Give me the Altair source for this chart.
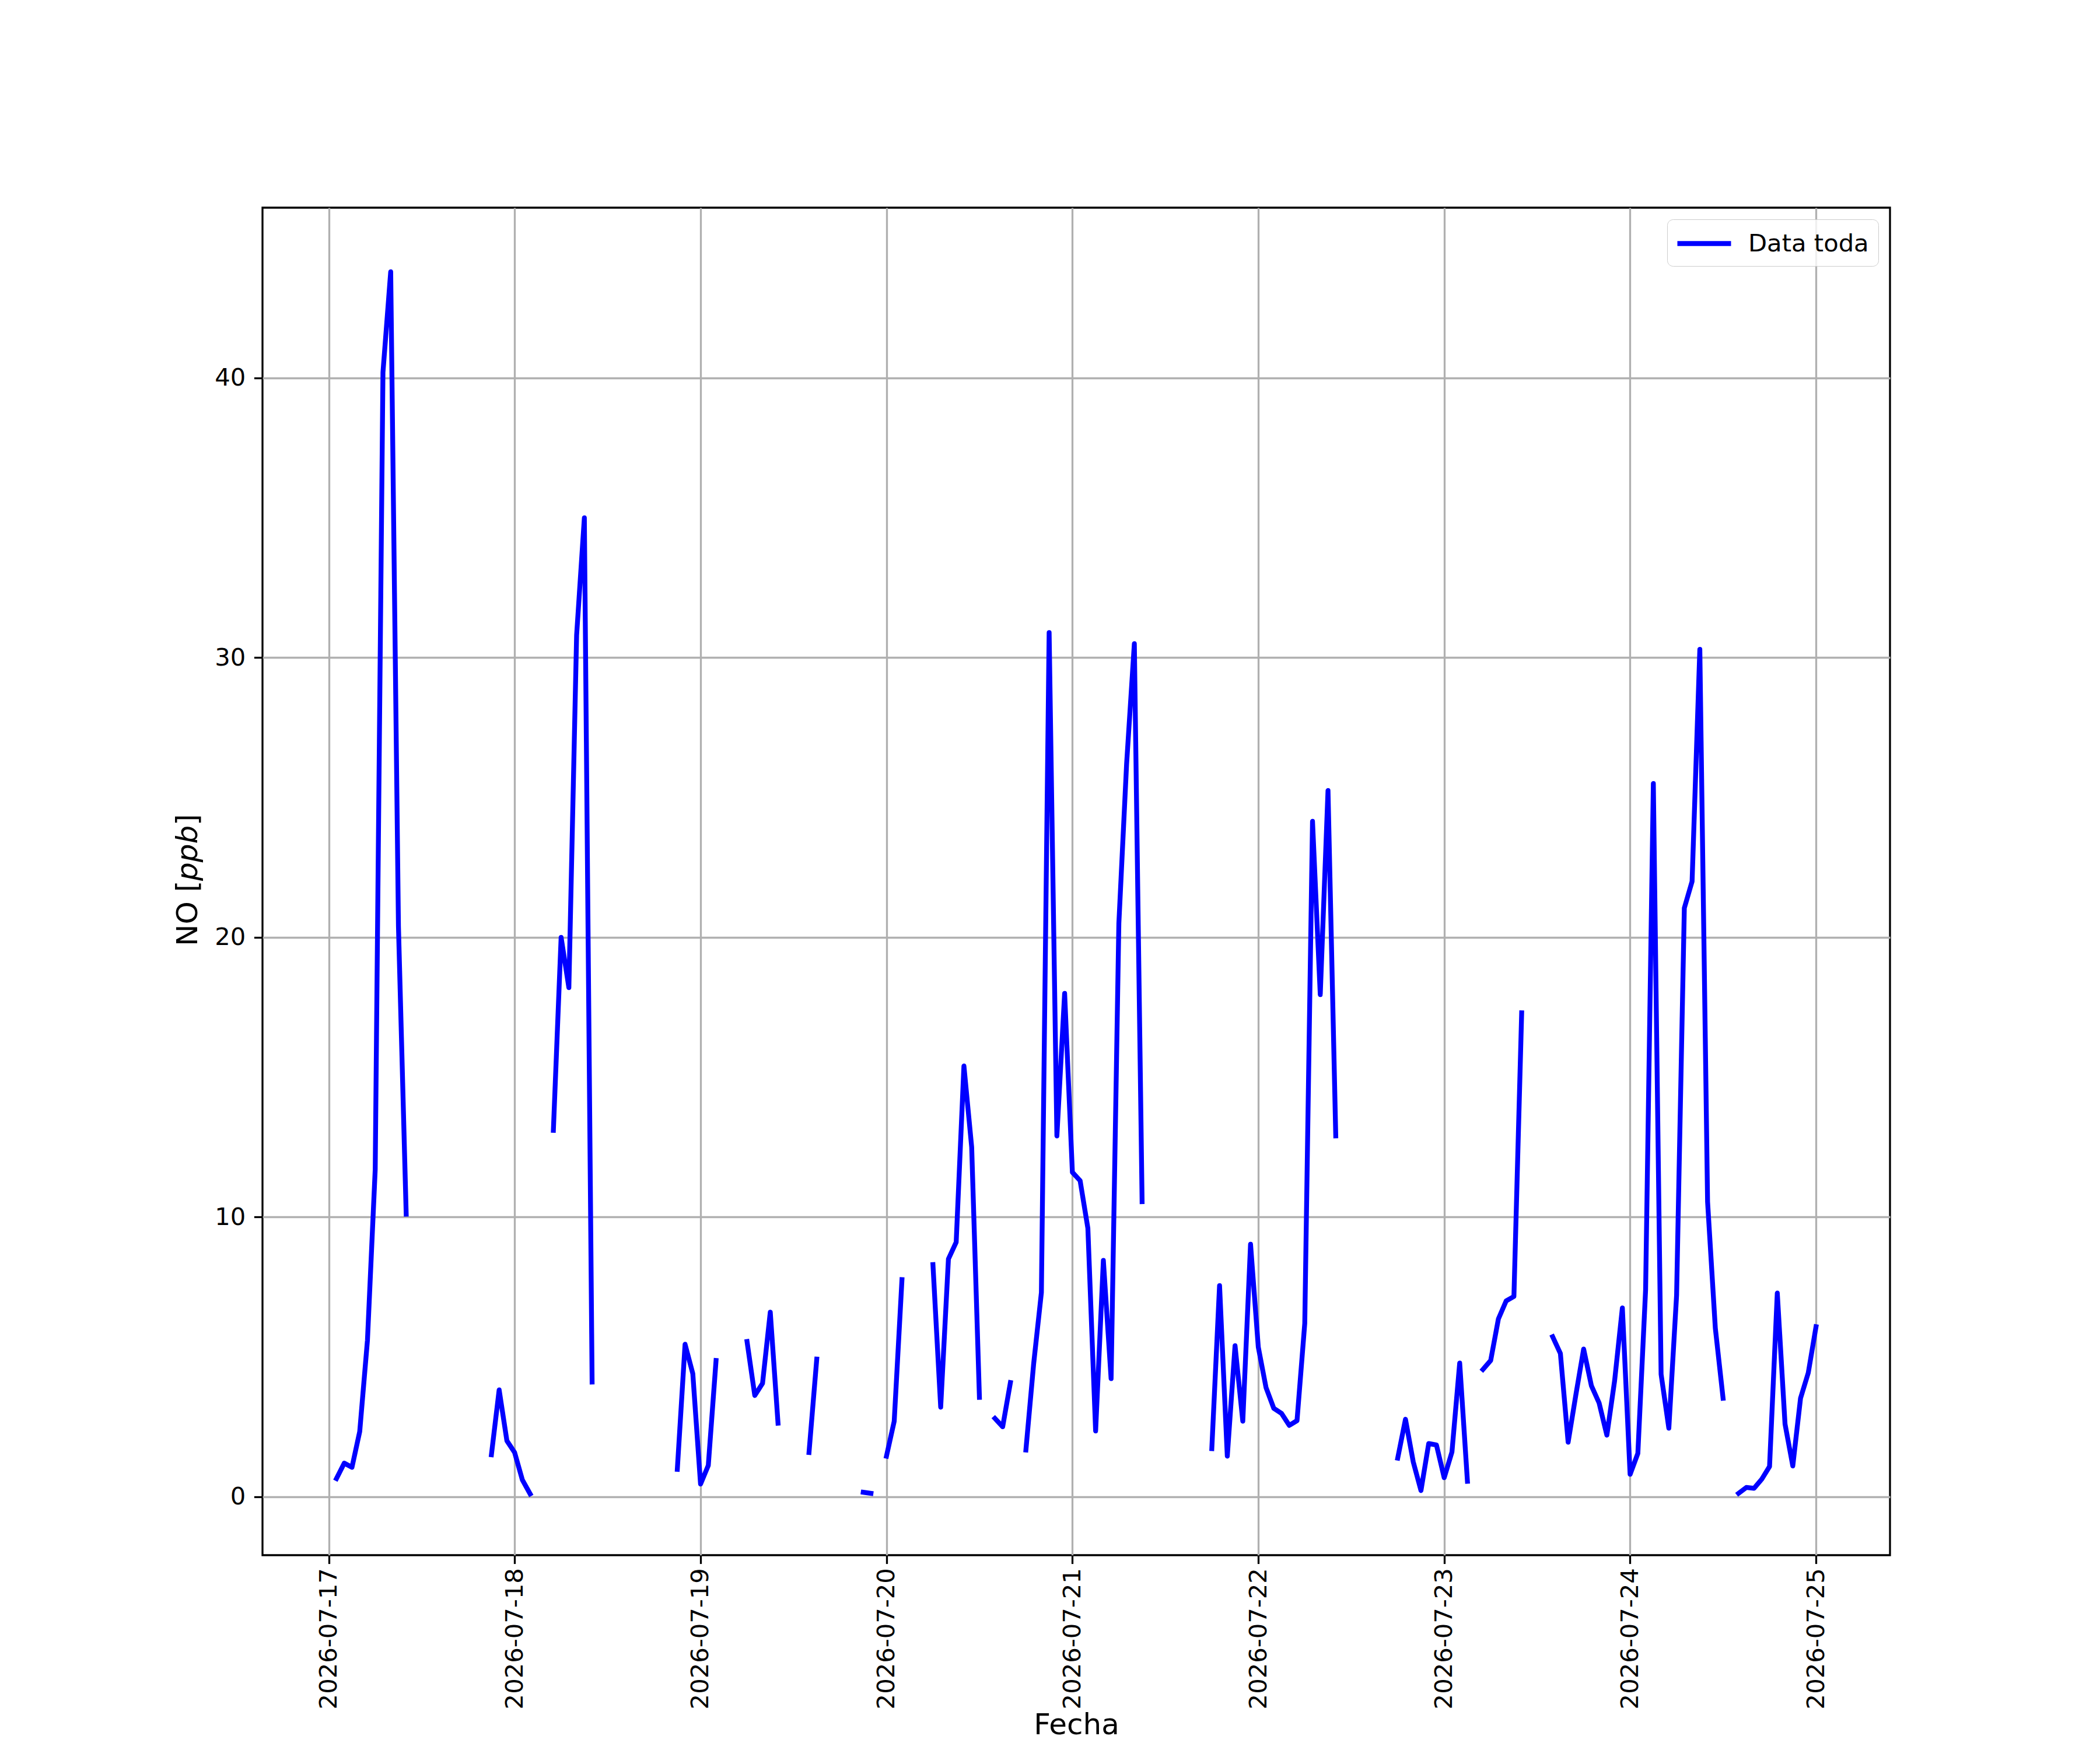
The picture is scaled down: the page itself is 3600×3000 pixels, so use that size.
import altair as alt
import pandas as pd

N = None
# Hourly NO values [ppb], one list per day (hours 0..23); None = missing
no_jul17 = [N, 0.65, 1.2, 1.05, 2.33, 5.6, 11.7, 40.2, 43.8, 20.4, 10.1, N,
            N, N, N, N, N, N, N, N, N, 1.5, 3.82, 2.0]
no_jul18 = [1.58, 0.6, 0.1, N, N, 13.1, 20.0, 18.2, 30.8, 35.0, 4.1, N,
            N, N, N, N, N, N, N, N, N, 0.98, 5.45, 4.4]
no_jul19 = [0.45, 1.12, 4.87, N, N, N, 5.55, 3.62, 4.05, 6.6, 2.63, N,
            N, N, 1.58, 4.92, N, N, N, N, N, 0.16, 0.12, N]
no_jul20 = [1.45, 2.7, 7.76, N, N, N, 8.3, 3.2, 8.5, 9.1, 15.4, 12.5,
            3.55, N, 2.8, 2.5, 4.08, N, 1.67, 4.75, 7.3, 30.9, 12.9, 18.0]
no_jul21 = [11.6, 11.3, 9.6, 2.35, 8.45, 4.22, 20.5, 26.2, 30.5, 10.55, N, N,
            N, N, N, N, N, N, 1.72, 7.55, 1.45, 5.4, 2.7, 9.03]
no_jul22 = [5.35, 3.9, 3.16, 2.98, 2.55, 2.72, 6.2, 24.15, 17.95, 25.25, 12.9, N,
            N, N, N, N, N, N, 1.38, 2.77, 1.25, 0.22, 1.9, 1.85]
no_jul23 = [0.68, 1.6, 4.78, 0.55, N, 4.55, 4.87, 6.36, 7.0, 7.16, 17.3, N,
            N, N, 5.72, 5.12, 1.95, 3.65, 5.28, 3.97, 3.35, 2.2, 4.15, 6.75]
no_jul24 = [0.8, 1.55, 7.4, 25.5, 4.38, 2.45, 7.2, 21.05, 22.0, 30.3, 10.55, 6.03,
            3.52, N, 0.12, 0.33, 0.3, 0.63, 1.08, 7.28, 2.6, 1.1, 3.52, 4.43]
no_jul25 = [6.08]

days = ["2026-07-17", "2026-07-18", "2026-07-19", "2026-07-20", "2026-07-21",
        "2026-07-22", "2026-07-23", "2026-07-24", "2026-07-25"]
y_ticks = [0, 10, 20, 30, 40]
serie_name = "Data toda"

values = (no_jul17 + no_jul18 + no_jul19 + no_jul20 + no_jul21 +
          no_jul22 + no_jul23 + no_jul24 + no_jul25)
times = pd.date_range("2026-07-17 00:00", periods=len(values), freq="h")

rows = []
seg = 0
prev_none = True
for t, v in zip(times, values):
    if v is None:
        prev_none = True
        continue
    if prev_none:
        seg += 1
        prev_none = False
    rows.append({"fecha": t.strftime("%Y-%m-%dT%H:%M:%S"), "no": v,
                 "seg": seg, "serie": serie_name})
df = pd.DataFrame(rows)

FONT = "DejaVu Sans"
W, H = 2790, 2310


def dt(s, h=0, m=0):
    y, mo, d = (int(p) for p in s.split("-"))
    return alt.DateTime(year=y, month=mo, date=d, hours=h, minutes=m)


line = alt.Chart(df).mark_line(
    strokeWidth=8.3, strokeJoin="round", strokeCap="square"
).encode(
    x=alt.X(
        "fecha:T",
        scale=alt.Scale(domain=[dt("2026-07-16", 15, 27), dt("2026-07-25", 9, 33)]),
        axis=alt.Axis(
            values=[dt(d) for d in days],
            format="%Y-%m-%d",
            labelAngle=270,
            labelPadding=7,
            labelLimit=1000,
            title="Fecha",
            titleY=306,
            titleBaseline="alphabetic",
        ),
    ),
    y=alt.Y(
        "no:Q",
        scale=alt.Scale(domain=[-2.09, 46.09], nice=False, zero=False),
        axis=alt.Axis(values=y_ticks, format="d", labelPadding=14.6,
                      labelLimit=1000, title=None),
    ),
    color=alt.Color(
        "serie:N",
        scale=alt.Scale(domain=[serie_name], range=["#0000ff"]),
        legend=alt.Legend(
            title=None,
            orient="top-right",
            offset=20,
            symbolType="M-1.143,0L3.238,0",
            symbolStrokeWidth=8.3,
            symbolSize=1764,
            labelFont=FONT,
            labelFontSize=41.7,
            labelColor="black",
            labelLimit=1000,
            labelOffset=72,
            padding=16,
            strokeColor="#cccccc",
            fillColor="rgba(255,255,255,0.8)",
            cornerRadius=10,
        ),
    ),
    detail="seg:N",
)


def ytitle_piece(txt, ypos, style):
    return alt.Chart(alt.Data(values=[{"t": txt}])).mark_text(
        angle=270, align="left", baseline="alphabetic",
        font=FONT, fontSize=50, fontStyle=style, color="black"
    ).encode(text="t:N", x=alt.value(-112), y=alt.value(ypos))


y_start = 1266
t1 = ytitle_piece("NO [", y_start, "normal")
t2 = ytitle_piece("ppb", y_start - 112, "italic")
t3 = ytitle_piece("]", y_start - 112 - 95, "normal")

chart = alt.layer(line, t1, t2, t3).properties(
    width=W, height=H,
    autosize=alt.AutoSizeParams(type="none"),
    padding={"left": 442, "top": 348, "right": 350, "bottom": 326},
    background="white",
).configure_view(
    stroke="black", strokeWidth=3.3
).configure_axis(
    labelFont=FONT, labelFontSize=41.7, labelColor="black",
    titleFont=FONT, titleFontSize=50, titleFontWeight="normal", titleColor="black",
    tickColor="black", tickWidth=3.3, tickSize=14.6,
    gridColor="#b0b0b0", gridWidth=3.3, grid=True,
    domain=False, labelOverlap=False, labelFlush=False,
)

chart.save("out.html", embed_options={"renderer": "svg", "actions": False})
